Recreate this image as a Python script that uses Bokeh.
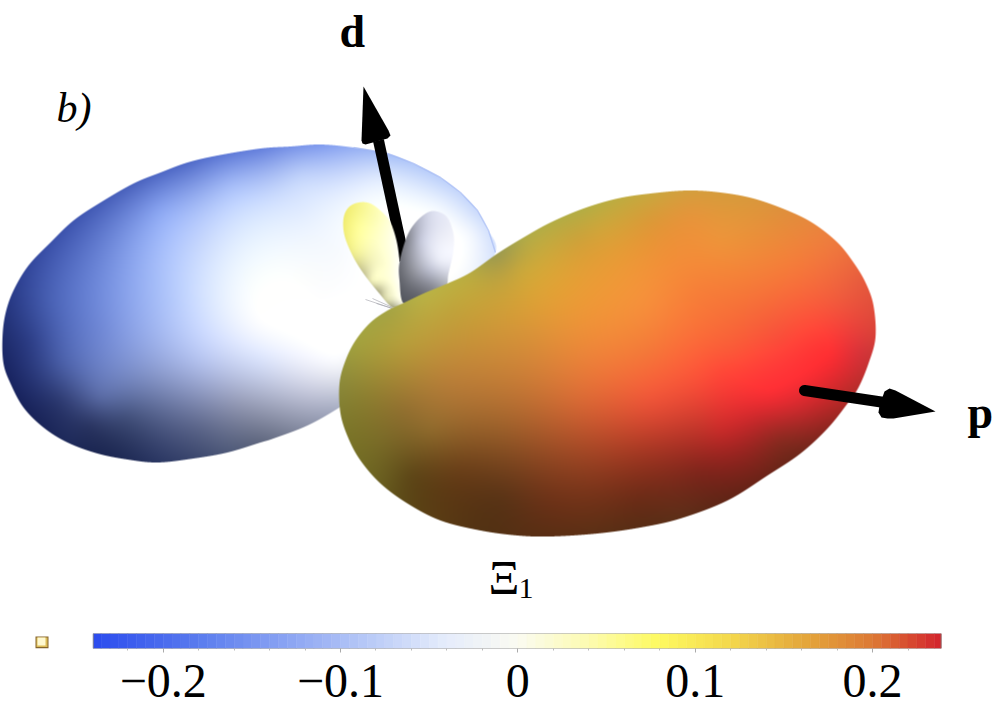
import numpy as np
from bokeh.core.properties import value
from bokeh.embed import file_html
from bokeh.layouts import column
from bokeh.models import FixedTicker, LinearAxis, Range1d
from bokeh.plotting import figure
from bokeh.resources import INLINE

# ---- colour bar data ----
bar_stops_v = [-0.24, -0.18, -0.10, -0.04, 0.0, 0.04, 0.08, 0.12, 0.16, 0.20, 0.24]
bar_stops_c = ["#2b4bee", "#5a7cef", "#a9bdf6", "#e6edfc", "#fbfbf2", "#fdfcb0", "#fefa60",
               "#f4d84c", "#e5a93c", "#dd7a35", "#d3202d"]
bar_major = [-0.2, -0.1, 0.0, 0.1, 0.2]
bar_minor = [-0.22, -0.18, -0.16, -0.14, -0.12, -0.08, -0.06, -0.04, -0.02,
             0.02, 0.04, 0.06, 0.08, 0.12, 0.14, 0.16, 0.18, 0.22]
bar_labels = {-0.2: "\u22120.2", -0.1: "\u22120.1", 0.0: "0", 0.1: "0.1", 0.2: "0.2"}
bar_low, bar_high = -0.2394, 0.2387
bar_edges = [bar_low] + [round(-0.235 + i * 0.005, 3) for i in range(95)] + [bar_high]

# ---- lobe outlines ----
blue_outline = [(260,148),(217,155),(187,162),(160,172),(133,183),(100,202),(73,220),(50,242),(28,265),
    (13,290),(5,313),(2,337),(3,363),(10,383),(23,407),(43,427),(67,442),(97,453),(127,459),(157,462),
    (193,458),(227,452),(260,442),(273,438),(307,425),(339,407),(380,380),(420,340),(470,290),(495,252),
    (488,230),(477,210),(460,192),(440,177),(413,163),(387,153),(353,147),(320,144),(290,146)]
orange_outline = [(650,193),(687,190),(720,192),(753,198),(787,210),(813,223),(837,242),(853,262),(865,282),
    (873,305),(875,337),(868,363),(858,387),(847,403),(827,428),(800,453),(767,475),(727,500),(680,518),
    (640,527),(597,533),(550,536),(517,535),(480,530),(440,520),(407,503),(380,483),(360,460),(348,438),
    (340,413),(339,383),(345,360),(355,340),(370,322),(387,310),(402,303),(423,293),(447,283),(470,272),
    (497,253),(523,237),(550,222),(583,208),(617,198)]
yellow_outline = [(402,303),(392,307),(378,292),(363,273),(352,255),(344,235),(343,218),(348,207),(358,202),
    (370,203),(382,212),(390,222),(396,240),(399,260),(400,280)]
grey_outline = [(403,303),(399,280),(399,262),(406,237),(415,222),(427,212),(437,211),(447,217),(453,233),
    (453,250),(448,273),(444,288),(420,300)]
blue_rim_x = [353,387,413,440,460,477,488,495]
blue_rim_y = [147,153,163,177,192,210,230,252]

# ---- surface colours: (x, y, colour) ----
blue_colours = [(2,337,"#1f2d6e"),(28,265,"#33479c"),(73,220,"#3e55b0"),(133,183,"#4a62bd"),(187,162,"#506ac8"),
    (260,148,"#6580dd"),(320,144,"#7f9aee"),(387,153,"#a4bdf7"),(440,177,"#bcd0fb"),(477,210,"#c9d9fc"),
    (495,252,"#d5e2fd"),(50,300,"#4a62b5"),(100,260,"#6c86d8"),(160,210,"#8ba6f2"),(230,185,"#a5bcf8"),
    (300,175,"#c0d2fb"),(380,175,"#dbe7fe"),(440,205,"#eef5ff"),(470,235,"#f5f9ff"),(100,330,"#7088d5"),
    (170,300,"#b3c8fb"),(240,270,"#f0f8ff"),(260,320,"#ffffff"),(320,300,"#ffffff"),(340,250,"#f8fbff"),
    (300,210,"#e0ebff"),(200,240,"#c5d6fd"),(60,360,"#4a5fa8"),(100,397,"#5a6ba5"),(67,442,"#1f2b5c"),
    (23,390,"#1e2a66"),(157,462,"#2b3763"),(227,452,"#4f5a7a"),(240,400,"#9aa0bb"),
    (260,442,"#606880"),(300,425,"#8a90a6"),(310,390,"#c8cbde"),(260,360,"#d9e2fb"),(200,360,"#b5c3ef"),
    (335,360,"#fbfcff"),(339,407,"#aab0c5"),(160,370,"#8f9fd2"),(400,290,"#ffffff"),
    (60,400,"#2e3b72"),(30,340,"#2e3f88"),(125,415,"#44527e"),(200,430,"#5a6488"),(90,425,"#2b3663")]
orange_colours = [(339,383,"#8c8a3a"),(355,340,"#a3a33f"),(387,310,"#a5a444"),(423,293,"#b9b346"),(470,272,"#b8ac42"),
    (497,253,"#9c9a50"),(523,237,"#b0ab48"),(583,208,"#b4ae44"),(650,193,"#c9a83f"),(720,192,"#d69c3c"),
    (787,210,"#e08f3c"),(837,242,"#ee7a3e"),(865,282,"#e65a3d"),(875,337,"#d84038"),(858,387,"#b82e2b"),
    (827,428,"#8f2620"),(767,475,"#6d2418"),(680,518,"#5e2f18"),(597,533,"#5c3015"),(517,535,"#573014"),
    (440,520,"#5a3c14"),(380,483,"#6a5f20"),(348,438,"#7a7428"),(360,400,"#8a7f30"),(400,340,"#b5a03c"),
    (450,310,"#c0a43c"),(520,270,"#c9a83c"),(580,240,"#d0a23a"),(650,220,"#dc9a38"),(720,240,"#ee943a"),
    (790,260,"#f47f3a"),(645,300,"#f6903b"),(530,340,"#d89039"),(450,380,"#b97f38"),(405,410,"#937030"),
    (410,475,"#5f4818"),(500,500,"#5a3416"),(500,430,"#9a5f2a"),(580,400,"#d96a35"),(580,470,"#8e3f20"),
    (640,500,"#6b2c17"),(650,400,"#ee5538"),(645,350,"#f47a39"),(700,380,"#fa4f38"),(770,390,"#ff3035"),
    (780,340,"#fb4c3a"),(830,353,"#ff3033"),(840,300,"#f05a3d"),(800,410,"#c82a2d"),(720,430,"#c82c2a"),
    (700,470,"#82261c"),(780,440,"#8a2a20"),(640,450,"#a83a24"),(730,350,"#fb5a38"),(700,290,"#f77f38"),
    (380,440,"#7b6c28"),(430,430,"#8f6a2c"),(460,470,"#6b4019"),(550,500,"#6e3318"),(690,215,"#e6953b"),
    (600,230,"#d2a53a"),(760,420,"#c4292b"),(700,420,"#cf3a2e"),(860,350,"#d8353a"),(800,375,"#ff3035"),
    (720,370,"#ff4a38")]
yellow_colours = [(345,225,"#f4f07a"),(358,205,"#f7f58a"),(352,255,"#eae88a"),(365,275,"#c9c79a"),(378,292,"#a8a680"),
    (392,307,"#9f9f80"),(360,225,"#ffff9e"),(375,240,"#ffffc5"),(385,265,"#ffffd2"),(395,290,"#ffffe0"),
    (400,300,"#ffffea"),(380,215,"#ffffc0"),(372,280,"#f7f7c0"),(385,298,"#e0e0b0")]
grey_colours = [(402,300,"#555860"),(400,265,"#6e7078"),(408,237,"#8a8c96"),(420,220,"#bec1d2"),(432,212,"#dcdfef"),
    (447,220,"#e9ebf7"),(453,240,"#f4f5fc"),(450,270,"#dcdeea"),(446,282,"#b5b8c0"),(420,240,"#c5c8da"),
    (435,240,"#e8eaf6"),(415,270,"#9a9ca6"),(430,270,"#bdc0d0"),(440,260,"#eceef8"),(415,295,"#62646c"),
    (432,285,"#8e909a")]

# ---- arrows ----
arrow_d_x, arrow_d_y = [378, 404], [140, 260]
arrow_d_head = [(363,86),(388,130),(390,135),(387,138),(365,144),(362,143),(361,140)]
arrow_p_x, arrow_p_y = [804, 884], [390, 402]
arrow_p_head = [(935,411),(895,390),(889,388),(884,391),(879,405),(878,412),(881,417),(887,418),(893,418)]
spike_x = [[365,392],[372,392],[376,392]]
spike_y = [[299,308],[298,307],[303,308]]


def Y(v):
    return 728 - np.asarray(v, dtype=float)


def hex_rgb(c):
    return [int(c[i:i + 2], 16) for i in (1, 3, 5)]


def smooth(pts, n=8):
    P = np.array(pts, dtype=float)
    out = []
    for i in range(len(P)):
        p0, p1, p2, p3 = P[i - 1], P[i], P[(i + 1) % len(P)], P[(i + 2) % len(P)]
        for t in np.arange(n) / n:
            out.append(0.5 * (2 * p1 + (p2 - p0) * t + (2 * p0 - 5 * p1 + 4 * p2 - p3) * t * t
                              + (3 * p1 - p0 - 3 * p2 + p3) * t ** 3))
    return np.array(out)


def coverage(poly, x0, y0, w, h, ss=4):
    cov = np.zeros((h, w))
    a, b = poly, np.roll(poly, -1, axis=0)
    for r in range(h * ss):
        yy = y0 + (r + 0.5) / ss
        m = (a[:, 1] <= yy) != (b[:, 1] <= yy)
        if not m.any():
            continue
        xs = np.sort(a[m, 0] + (yy - a[m, 1]) / (b[m, 1] - a[m, 1]) * (b[m, 0] - a[m, 0]))
        for s, e in zip(xs[::2], xs[1::2]):
            s2, e2 = s - x0, e - x0
            i0, i1 = int(np.clip(np.floor(s2), 0, w - 1)), int(np.clip(np.floor(e2), 0, w - 1))
            row = cov[r // ss]
            if i0 == i1:
                row[i0] += (e2 - s2) / ss
            else:
                row[i0] += (i0 + 1 - s2) / ss
                row[i0 + 1:i1] += 1 / ss
                row[i1] += (e2 - i1) / ss
    return np.clip(cov, 0, 1)


def field(colours, x0, y0, w, h, reg):
    pts = np.array([[c[0], c[1]] for c in colours], dtype=float) / 100
    rgb = np.array([hex_rgb(c[2]) for c in colours], dtype=float)
    n = len(pts)

    def phi(r2):
        return 0.5 * r2 * np.log(r2 + 1e-9)

    d = ((pts[:, None] - pts[None]) ** 2).sum(-1)
    Q = np.c_[np.ones(n), pts]
    A = np.zeros((n + 3, n + 3))
    A[:n, :n] = phi(d) + reg * np.eye(n)
    A[:n, n:] = Q
    A[n:, :n] = Q.T
    B = np.r_[rgb, np.zeros((3, 3))]
    sol = np.linalg.solve(A, B)
    gx = np.arange(x0, x0 + w + 4, 4.0)
    gy = np.arange(y0, y0 + h + 4, 4.0)
    GX, GY = np.meshgrid(gx / 100, gy / 100)
    G = np.c_[GX.ravel(), GY.ravel()]
    D = ((G[:, None] - pts[None]) ** 2).sum(-1)
    vals = phi(D) @ sol[:n] + np.c_[np.ones(len(G)), G] @ sol[n:]
    vals = vals.reshape(len(gy), len(gx), 3)
    fx, fy = np.arange(w) + x0 + 0.5, np.arange(h) + y0 + 0.5
    out = np.zeros((h, w, 3))
    for ch in range(3):
        tmp = np.array([np.interp(fx, gx, vals[j, :, ch]) for j in range(len(gy))])
        out[:, :, ch] = np.array([np.interp(fy, gy, tmp[:, i]) for i in range(w)]).T
    return np.clip(out, 0, 255)


def draw_lobe(p, outline, colours, reg=0.01):
    poly = smooth(outline)
    x0, y0 = max(int(poly[:, 0].min()) - 2, 0), int(poly[:, 1].min()) - 2
    w, h = int(poly[:, 0].max()) + 3 - x0, int(poly[:, 1].max()) + 3 - y0
    cov = coverage(poly, x0, y0, w, h)
    col = field(colours, x0, y0, w, h, reg)
    img = np.zeros((h, w), dtype=np.uint32)
    view = img.view(dtype=np.uint8).reshape((h, w, 4))
    view[:, :, :3] = col.astype(np.uint8)
    view[:, :, 3] = (cov * 255).astype(np.uint8)
    p.image_rgba(image=[np.flipud(img)], x=x0, y=728 - (y0 + h), dw=w, dh=h)


W = 1000
serif = value("Liberation Serif")

p = figure(width=W, height=620, x_range=(0, 1000), y_range=(108, 728), output_backend="svg",
           toolbar_location=None, min_border=0, outline_line_color=None, x_axis_location=None,
           y_axis_location=None)
p.grid.visible = False

draw_lobe(p, blue_outline, blue_colours)
p.line(blue_rim_x, Y(blue_rim_y), line_color="#9fb5f3", line_alpha=0.55, line_width=1.5)
p.multi_line(spike_x, [list(Y(s)) for s in spike_y], line_color="#a0a0a8", line_alpha=0.6, line_width=1)
p.line(arrow_d_x, Y(arrow_d_y), line_color="black", line_width=11)
p.patch([q[0] for q in arrow_d_head], Y([q[1] for q in arrow_d_head]), fill_color="black", line_color=None)
draw_lobe(p, yellow_outline, yellow_colours, 0.001)
draw_lobe(p, grey_outline, grey_colours, 0.001)
draw_lobe(p, orange_outline, orange_colours)
p.line(arrow_p_x, Y(arrow_p_y), line_color="black", line_width=11, line_cap="round")
p.patch([q[0] for q in arrow_p_head], Y([q[1] for q in arrow_p_head]), fill_color="black", line_color=None)


def txt(pl, x, y, s, size, style="normal"):
    pl.text(x=[x], y=[728 - (y - 0.34 * size)], text=[s], text_font=serif, text_font_size=f"{size}px",
            text_font_style=style, text_color="black", text_baseline="alphabetic", text_align="left")


txt(p, 339, 47, "d", 46, "bold")
txt(p, 967, 428, "p", 46, "bold")
txt(p, 56, 122, "b)", 42, "italic")
txt(p, 488, 593, "\u039e", 48)
txt(p, 518, 598, "1", 30)

# ---- colour bar ----
q = figure(width=W, height=108, x_range=(-0.29174, 0.27216), y_range=(80, 95), output_backend="svg",
           toolbar_location=None, frame_height=15, min_border_top=13, min_border_bottom=80, min_border_left=0,
           min_border_right=0, outline_line_color=None, x_axis_location=None, y_axis_location=None)
q.grid.visible = False
q.extra_x_ranges = {"px": Range1d(0, 1000)}

stops = np.array([hex_rgb(c) for c in bar_stops_c], dtype=float)
mids = (np.array(bar_edges[:-1]) + np.array(bar_edges[1:])) / 2
cell = np.array([np.interp(mids, bar_stops_v, stops[:, ch]) for ch in range(3)]).T.astype(int)
cell_colors = ["#%02x%02x%02x" % tuple(c) for c in cell]
q.quad(left=bar_edges[:-1], right=bar_edges[1:], bottom=80, top=95, fill_color=cell_colors, line_color=cell_colors,
       line_width=0.5)
q.quad(left=[bar_low], right=[bar_high], bottom=[80], top=[95], fill_color=None, line_color="#808080", line_alpha=0.8,
       line_width=1)

q.quad(x_range_name="px", left=[35], right=[48], bottom=[80], top=[92], fill_color="#85652c", line_color=None)
q.quad(x_range_name="px", left=[36], right=[47], bottom=[81.5], top=[91], fill_color="#dcbc58", line_color=None)
q.quad(x_range_name="px", left=[37], right=[45], bottom=[83], top=[91], fill_color="#fff9d0", line_color=None)

axis = LinearAxis(ticker=FixedTicker(ticks=bar_major, minor_ticks=bar_minor), axis_line_color=None,
                  major_tick_line_color="#aaaaaa", minor_tick_line_color="#bbbbbb", major_tick_in=0, major_tick_out=4,
                  minor_tick_in=0, minor_tick_out=2, major_label_standoff=12,
                  major_label_text_font="Liberation Serif", major_label_text_font_size="48px",
                  major_label_text_color="black", major_label_overrides=bar_labels)
q.add_layout(axis, "below")

page = column(p, q, spacing=0)
open("out.html", "w").write(file_html(page, INLINE))
